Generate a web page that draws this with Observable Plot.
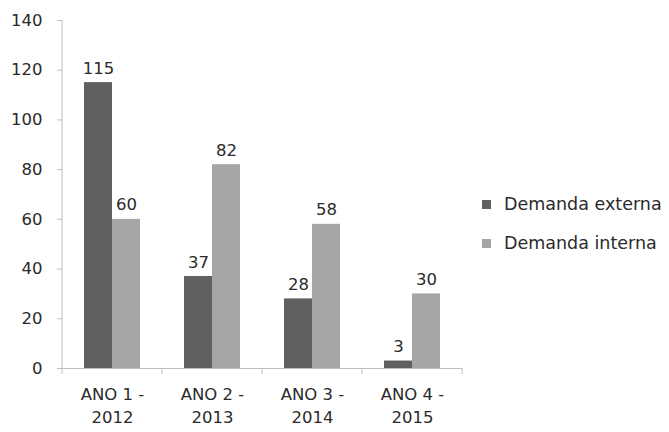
<!DOCTYPE html>
<html><head><meta charset="utf-8">
<script src="https://cdn.jsdelivr.net/npm/d3@7"></script>
<script src="https://cdn.jsdelivr.net/npm/@observablehq/plot@0.6"></script>
<style>
body{margin:0;background:#fff;font-family:"DejaVu Sans",sans-serif}
#wrap{position:relative;width:669px;height:432px}
#legend{position:absolute;left:482px;top:185px;z-index:2;}
#legend .lg-swatch{height:38px;margin:0 !important;display:flex;align-items:center;}
#legend .lg-swatch svg{margin-right:13px !important;}
</style>
</head><body><div id="wrap"><div id="legend"></div></div>
<script>
const years = ["ANO 1 -\n2012","ANO 2 -\n2013","ANO 3 -\n2014","ANO 4 -\n2015"];
const series = ["Demanda externa","Demanda interna"];
const externa = [115,37,28,3];
const interna = [60,82,58,30];
const yTicks = [0,20,40,60,80,100,120,140];
const colors = ["#606060","#a6a6a6"];
const FS = 16.5;
const FONT = "DejaVu Sans";

const data = years.flatMap((y,i)=>[
  {year:y,serie:series[0],value:externa[i]},
  {year:y,serie:series[1],value:interna[i]}
]);

const plot = Plot.plot({
  width:669, height:432, marginLeft:62, marginRight:207, marginTop:20, marginBottom:64,
  style:{fontFamily:FONT, fontSize:FS+"px", color:"#333", background:"#fff", overflow:"visible"},
  fx:{domain:years, padding:0, label:null, axis:null},
  x:{domain:series, paddingInner:0, paddingOuter:0.75, axis:null},
  y:{domain:[0,140], label:null, axis:null},
  color:{domain:series, range:colors},
  marks:[
    Plot.barY(data,{fx:"year",x:"serie",y:"value",fill:"serie"}),
    Plot.text(data,{fx:"year",x:"serie",y:"value",text:d=>String(d.value), lineAnchor:"bottom", dy:-9, fill:"#2a2a2a", fontSize:FS}),
    Plot.ruleY([0],{stroke:"#bfbfbf"}),
    Plot.axisY({ticks:yTicks, tickSize:5, tickPadding:15, stroke:"#bfbfbf", fill:"#2a2a2a", label:null, fontSize:FS}),
    Plot.axisFx({anchor:"bottom", tickSize:0, tickPadding:15, lineHeight:1.4, fill:"#2a2a2a", label:null, fontSize:FS})
  ]
});
document.getElementById("wrap").appendChild(plot);
plot.style.position="absolute"; plot.style.left="0"; plot.style.top="0";

// axis line and group separators through the library's scales
const fx = plot.scale("fx"), y = plot.scale("y");
const svg = d3.select(plot);
const y0 = y.apply(0), yTop = y.apply(140);
const xl = fx.apply(years[0]);
svg.append("line").attr("x1",xl).attr("x2",xl).attr("y1",yTop).attr("y2",y0).attr("stroke","#bfbfbf");
const bounds = years.map(v=>fx.apply(v)).concat([fx.apply(years[years.length-1])+fx.bandwidth]);
bounds.forEach(b=>{
  svg.append("line").attr("x1",b).attr("x2",b).attr("y1",y0).attr("y2",y0+6).attr("stroke","#bfbfbf");
});

const lg = Plot.legend({color:{domain:series, range:colors}, swatchSize:9, columns:1, className:"lg",
  style:{fontFamily:FONT, fontSize:"17.5px", color:"#2a2a2a"}});
document.getElementById("legend").appendChild(lg);
</script>
</body></html>
